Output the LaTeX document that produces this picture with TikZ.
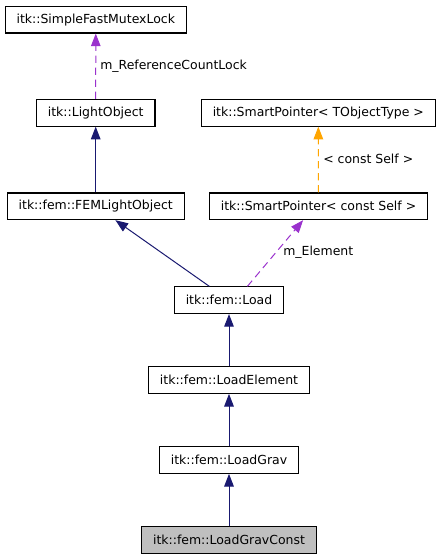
\documentclass[tikz,border=0pt]{standalone}
\usepackage{fontspec}
\setmainfont{DejaVu Sans}
\usetikzlibrary{arrows.meta}

\definecolor{edgeblue}{RGB}{25,25,112}
\definecolor{edgeorchid}{RGB}{154,50,205}
\definecolor{edgeorange}{RGB}{255,165,0}
\definecolor{boxgrey}{RGB}{191,191,191}

\begin{document}
\begin{tikzpicture}[x=0.75pt,y=-0.75pt]
    % Use the class box font and sizes
    \tikzstyle{every node}=[font=\fontsize{9.35}{11}\selectfont]
    \tikzstyle{classbox}=[draw=black,line width=0.8pt,fill=white,inner xsep=8.6pt,minimum height=20pt]
    \tikzstyle{inherit}=[draw=edgeblue,line width=0.75pt,-{Triangle[length=9.5pt,width=7.2pt]}]
    \tikzstyle{member}=[draw=edgeorchid,line width=0.75pt,dash pattern=on 5.5pt off 3.5pt,-{Triangle[length=9.5pt,width=7.2pt]}]
    \tikzstyle{templ}=[draw=edgeorange,line width=0.75pt,dash pattern=on 5.5pt off 3.5pt,-{Triangle[length=9.5pt,width=7.2pt]}]
    \tikzstyle{edgelabel}=[anchor=west,inner sep=0pt]

    % Fix the picture size
    \useasboundingbox (0,0) rectangle (441,560);

    % Draw the class boxes
    \node[classbox] (mutex) at (95.8,19.7) {itk::SimpleFastMutexLock};
    \node[classbox] (light) at (95.7,112.8) {itk::LightObject};
    \node[classbox] (sptype) at (318.3,112.8) {itk::SmartPointer< TObjectType >};
    \node[classbox] (femlight) at (95.7,206.3) {itk::fem::FEMLightObject};
    \node[classbox] (spconst) at (318.5,206.3) {itk::SmartPointer< const Self >};
    \node[classbox] (load) at (229,300.2) {itk::fem::Load};
    \node[classbox] (loadelem) at (229,380) {itk::fem::LoadElement};
    \node[classbox] (loadgrav) at (229,460) {itk::fem::LoadGrav};
    \node[classbox,fill=boxgrey] (loadgravconst) at (229,540) {itk::fem::LoadGravConst};

    % Draw the inheritance arrows
    \foreach \child/\parent in {loadgravconst/loadgrav,loadgrav/loadelem,loadelem/load,load/femlight,femlight/light}
        \draw[inherit] (\child) -- (\parent);

    % Draw the member and template arrows
    \draw[member] (light) -- (mutex);
    \draw[member] (load.37) -- (spconst.-138);
    \draw[templ] (spconst) -- (sptype);

    % Label the dashed arrows
    \node[edgelabel] (reflabel) at (100,66) {m\_ReferenceCountLock};
    \node[edgelabel] (constlabel) at (323,159) {< const Self >};
    \node[edgelabel] (elemlabel) at (283,252) {m\_Element};

\end{tikzpicture}
\end{document}
